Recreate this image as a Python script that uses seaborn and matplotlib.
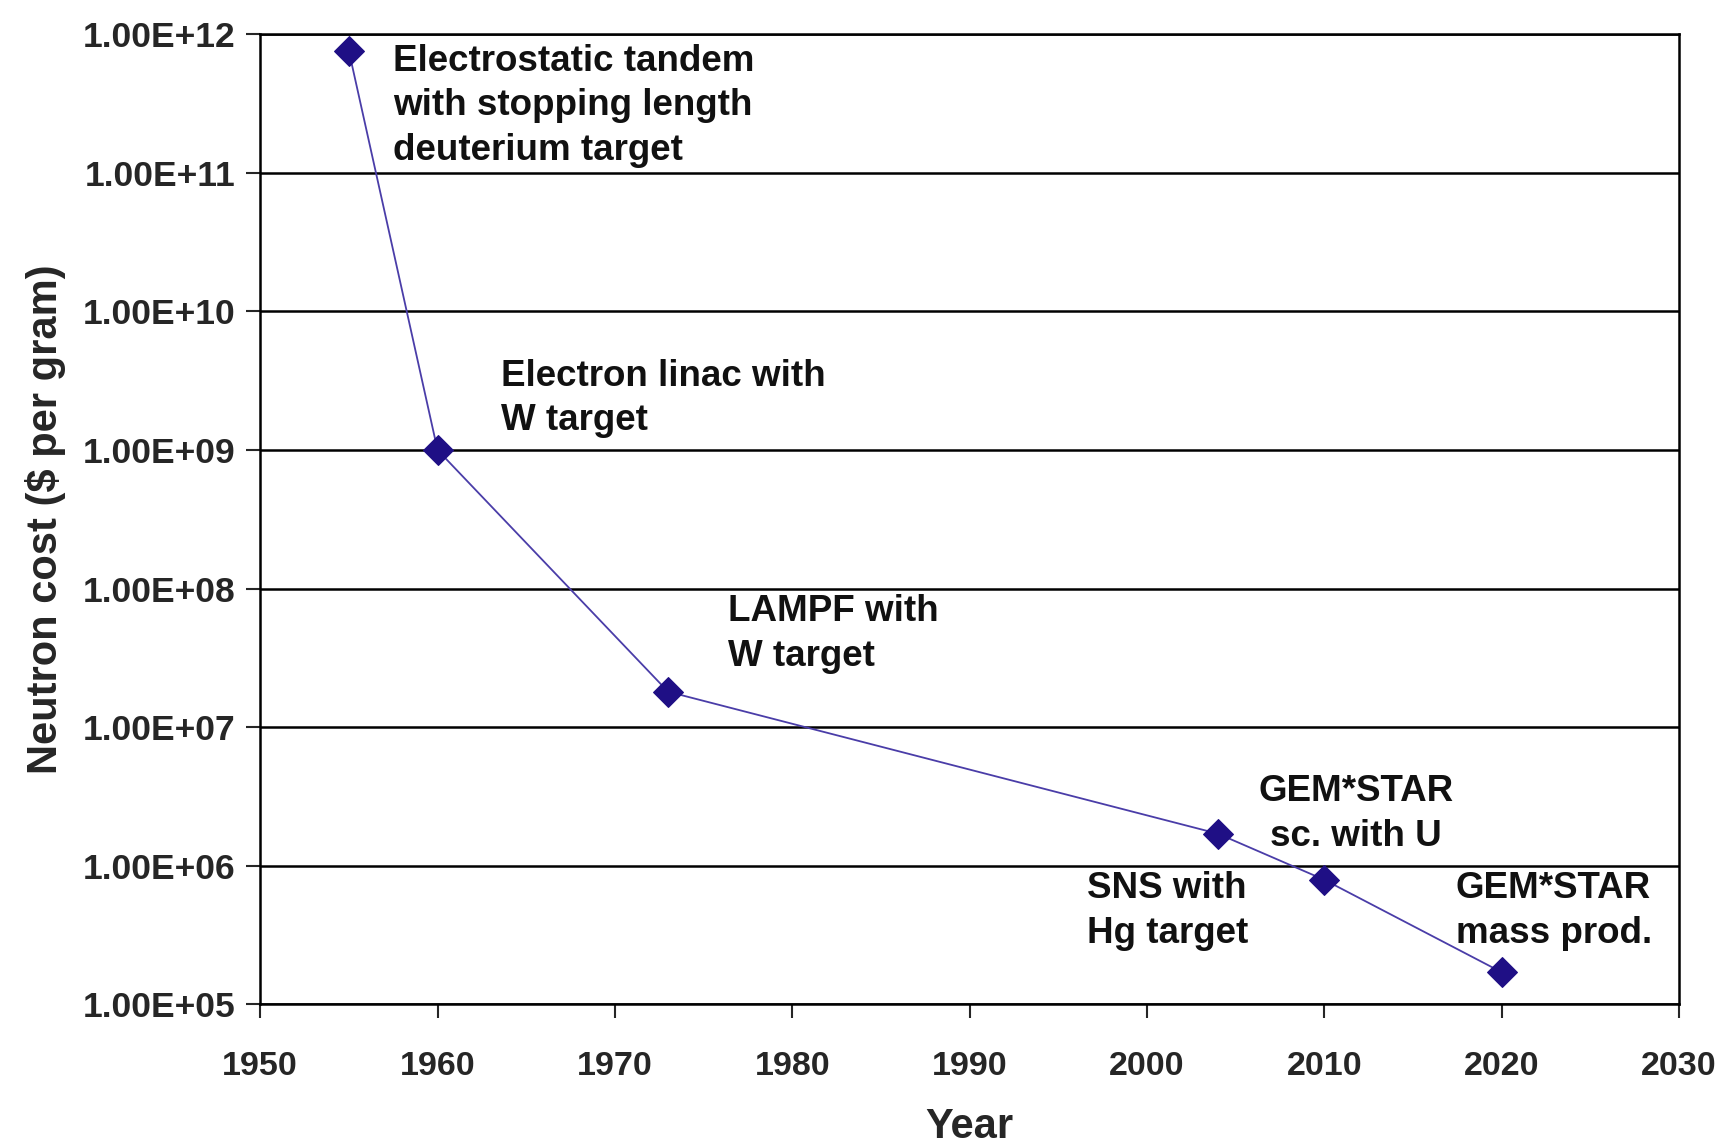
import numpy as np
import pandas as pd
import matplotlib
matplotlib.use('Agg')
import matplotlib.pyplot as plt
import matplotlib.ticker as mticker
import seaborn as sns

# data
years = [1955, 1960, 1973, 2004, 2010, 2020]
cost = [7.6e11, 1.0e9, 1.8e7, 1.7e6, 7.9e5, 1.7e5]

labels = ['Electrostatic tandem\nwith stopping length\ndeuterium target',
          'Electron linac with\nW target',
          'LAMPF with\nW target',
          'SNS with\nHg target',
          'GEM*STAR\nsc. with U',
          'GEM*STAR\nmass prod.']
label_x = [1957.5, 1963.6, 1976.4, 1996.6, 2011.8, 2017.4]
label_y = [10**11.93, 10**9.66, 10**7.96, 10**5.96, 10**6.66, 10**5.96]
label_ha = ['left', 'left', 'left', 'left', 'center', 'left']

df = pd.DataFrame({'Year': years, 'cost': cost})

sns.set_style('white')
plt.rcParams['font.family'] = ['Liberation Sans', 'DejaVu Sans']
plt.rcParams['font.weight'] = 'bold'

fig, ax = plt.subplots(figsize=(17.23, 11.45), dpi=100)
fig.subplots_adjust(left=0.151, right=0.9745, top=0.970, bottom=0.123)

sns.lineplot(data=df, x='Year', y='cost', ax=ax, color='#4a3da8', lw=1.3,
             marker='D', markersize=15, markerfacecolor='#1f0f85',
             markeredgecolor='#1f0f85', zorder=5)

ax.set_yscale('log')
ax.set_ylim(1e5, 1e12)
ax.set_xlim(1950, 2030)
ax.set_xticks(range(1950, 2031, 10))
ax.set_yticks([10**k for k in range(5, 13)])
ax.yaxis.set_minor_locator(mticker.NullLocator())
ax.yaxis.set_major_formatter(mticker.FuncFormatter(lambda v, p: f'{v:.2E}'))

ax.grid(axis='y', color='black', lw=1.8)
ax.grid(axis='x', visible=False)
for s in ax.spines.values():
    s.set_color('black')
    s.set_linewidth(1.8)

ax.tick_params(axis='y', which='major', direction='out', length=10, width=1.5,
               labelsize=25.5, pad=8, left=True)
ax.tick_params(axis='x', which='major', direction='out', length=10, width=1.5,
               labelsize=24.5, pad=24, bottom=True)
for t in ax.get_xticklabels() + ax.get_yticklabels():
    t.set_fontweight('bold')

ax.set_xlabel('Year', fontsize=30, fontweight='bold', labelpad=18)
ax.set_ylabel('Neutron cost ($ per gram)', fontsize=30, fontweight='bold', labelpad=12)

for txt, x, y, ha in zip(labels, label_x, label_y, label_ha):
    ax.text(x, y, txt, ha=ha, va='top', fontsize=26.5, fontweight='bold',
            linespacing=1.35, color='#111111', zorder=6)

fig.savefig('out.png', dpi=100)
